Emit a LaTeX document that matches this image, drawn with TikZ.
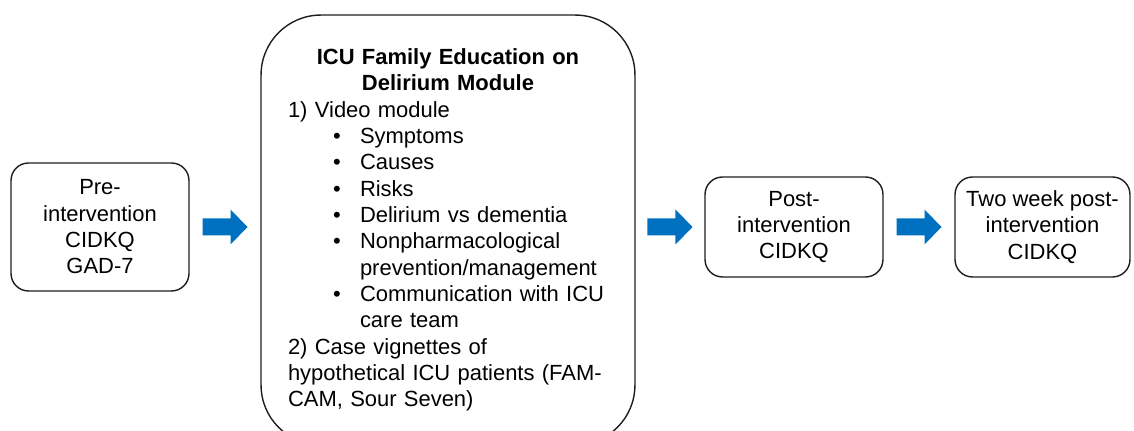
\documentclass[tikz,border=0pt]{standalone}
\usepackage{fontspec}
\setmainfont{Liberation Sans}
\usetikzlibrary{calc}
\definecolor{arrowblue}{RGB}{0,112,192}
\definecolor{boxline}{RGB}{30,30,30}
\tikzset{
  stage/.style={draw=boxline, line width=0.8pt, rounded corners=0.35cm,
    align=center, inner sep=0pt, font=\fontsize{12.5pt}{15pt}\selectfont},
  module/.style={draw=boxline, line width=0.8pt, rounded corners=1.2cm,
    text width=6.4cm, inner xsep=0.54cm, inner ysep=0pt, minimum height=8.6cm,
    align=left, font=\fontsize{12.5pt}{15pt}\selectfont},
  pics/blockarrow/.style={code={
    \fill[arrowblue] (-22.5,-8.5) -- (5.5,-8.5) -- (5.5,-17.5) -- (22.5,0)
      -- (5.5,17.5) -- (5.5,8.5) -- (-22.5,8.5) -- cycle;}}
}
\newcommand{\bitem}{\makebox[1.44cm][l]{\hspace{0.9cm}\textbullet}}
\newcommand{\bcont}{\hspace*{1.44cm}}
\begin{document}
\begin{tikzpicture}[x=0.02cm, y=-0.02cm]
  \useasboundingbox (0,0) rectangle (1134,431);
  % stages
  \node[stage, minimum width=3.56cm, minimum height=2.56cm] (pre) at (100,227)
    {Pre-\\intervention\\CIDKQ\\GAD-7};
  \node[module] (module) at (448,230)
    {{\centering\bfseries ICU Family Education on\\Delirium Module\par}
     1) Video module\\
     \bitem Symptoms\\
     \bitem Causes\\
     \bitem Risks\\
     \bitem Delirium vs dementia\\
     \bitem Nonpharmacological\\
     \bcont prevention/management\\
     \bitem Communication with ICU\\
     \bcont care team\\
     2) Case vignettes of\\
     hypothetical ICU patients (FAM-\\
     CAM, Sour Seven)};
  \node[stage, minimum width=3.56cm, minimum height=2cm] (post) at (794,227)
    {Post-\\intervention\\CIDKQ};
  \node[stage, minimum width=3.5cm, minimum height=2cm] (twoweek) at (1042.5,227)
    {Two week post-\\intervention\\CIDKQ};
  % arrows
  \pic at ($(pre.east)!0.5!(module.west |- pre.east)$) {blockarrow};
  \pic at ($(module.east |- post.east)!0.5!(post.west)$) {blockarrow};
  \pic at ($(post.east)!0.5!(twoweek.west)$) {blockarrow};
\end{tikzpicture}
\end{document}
